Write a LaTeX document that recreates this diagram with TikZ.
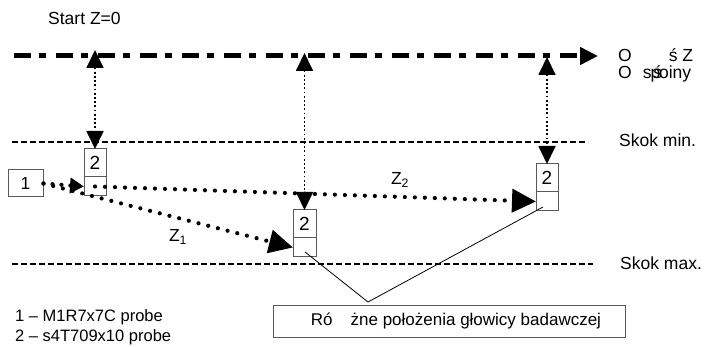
\documentclass[tikz,border=0pt]{standalone}
\usepackage{fontspec}
\setmainfont{Liberation Sans}
\usetikzlibrary{arrows.meta}
\definecolor{boxgray}{HTML}{5A5A5A}
\begin{document}
\begin{tikzpicture}[x=1pt,y=-1pt,
  font=\fontsize{17.5}{20}\selectfont,
  lbl/.style={anchor=west, inner sep=0pt},
  leg/.style={anchor=west, inner sep=0pt, font=\fontsize{16.5}{19}\selectfont},
  topcell/.style={draw=boxgray, line width=1pt, minimum width=22pt, minimum height=28pt, inner sep=0pt, outer sep=0pt, anchor=north, font=\fontsize{19}{20}\selectfont},
  botcell/.style={draw=boxgray, line width=1pt, minimum width=22pt, minimum height=19pt, inner sep=0pt, outer sep=0pt, anchor=north},
  axisline/.style={line width=5pt, dash pattern=on 17pt off 8pt on 7pt off 10pt, -{Triangle[length=18pt,width=17pt]}},
  limitline/.style={line width=1.2pt, dash pattern=on 6pt off 3pt},
  vlink/.style={line width=1.8pt, dash pattern=on 1.8pt off 2.4pt, {Triangle[length=18pt,width=17pt]}-{Triangle[length=18pt,width=17pt]}},
  path/.style={line width=4.2pt, line cap=round, dash pattern=on 0pt off 10pt, -{Triangle[length=24pt,width=23pt]}},
  shortpath/.style={line width=4.2pt, line cap=round, dash pattern=on 0pt off 9pt, -{Triangle[length=14pt,width=15pt]}},
  thin/.style={line width=0.8pt}]
\useasboundingbox (0,0) rectangle (704,347);

% axis line
\coordinate (axS) at (14,56);
\coordinate (axE) at (598,56);
\draw[axisline] (axS) -- (axE);

% limit lines
\coordinate (minS) at (12,142);
\coordinate (minE) at (588,142);
\coordinate (maxS) at (12,264);
\coordinate (maxE) at (593,264);
\draw[limitline] (minS) -- (minE);
\draw[limitline] (maxS) -- (maxE);

% texts
\node[lbl] (start) at (48,18) {Start Z=0};
\node[lbl] (osz) at (618,55) {O\hspace{37pt}ś Z};
\node[lbl] (osp) at (618,74) {O\hspace{11pt}s\hspace{-1pt}p\hspace{-7pt}ś\hspace{-3pt}oiny};
\node[lbl] (kmin) at (619,140) {Skok min.};
\node[lbl] (kmax) at (620,263) {Skok max.};
\node[leg] (leg1) at (15,317) {1 – M1R7x7C probe};
\node[leg] (leg2) at (15,337) {2 – s4T709x10 probe};

% probe 1
\node[draw=boxgray, line width=1pt, minimum width=35pt, minimum height=27pt, inner sep=0pt] (b1) at (25.5,183.5) {1};

% probe 2 positions
\node[topcell] (pAt) at (95,149) {2};
\node[botcell] (pAb) at (pAt.south) {};
\node[topcell, minimum width=23pt] (pBt) at (304.5,210) {2};
\node[botcell, minimum width=23pt] (pBb) at (pBt.south) {};
\node[topcell] (pCt) at (547,164) {2};
\node[botcell] (pCb) at (pCt.south) {};

% vertical links
\coordinate (tA) at (95,50);
\coordinate (tB) at (304.5,53);
\coordinate (tC) at (547,57);
\draw[vlink] (tA) -- (pAt.north);
\draw[vlink] (tB) -- (pBt.north);
\draw[vlink] (tC) -- (pCt.north);

% movement paths
\draw[shortpath] (b1.east) -- (pAb.west);
\draw[path] (b1.east) -- (pBb.west);
\draw[path] (pAb.center) -- (pCb.west);
\node (z1) at (178,237) {Z\textsubscript{1}};
\node (z2) at (400,180) {Z\textsubscript{2}};

% label box
\node[draw=boxgray, line width=1pt, minimum width=352pt, minimum height=31pt, inner sep=0pt, font=\fontsize{17}{20}\selectfont] (desc) at (449,321.5) {\hspace{14pt}Ró\hspace{18pt}żne położenia głowicy badawczej};
\coordinate (apex) at (368,302);
\coordinate (inB) at (305,252);
\coordinate (inC) at (543,207);
\draw[thin] (inB) -- (apex) -- (inC);
\end{tikzpicture}
\end{document}
